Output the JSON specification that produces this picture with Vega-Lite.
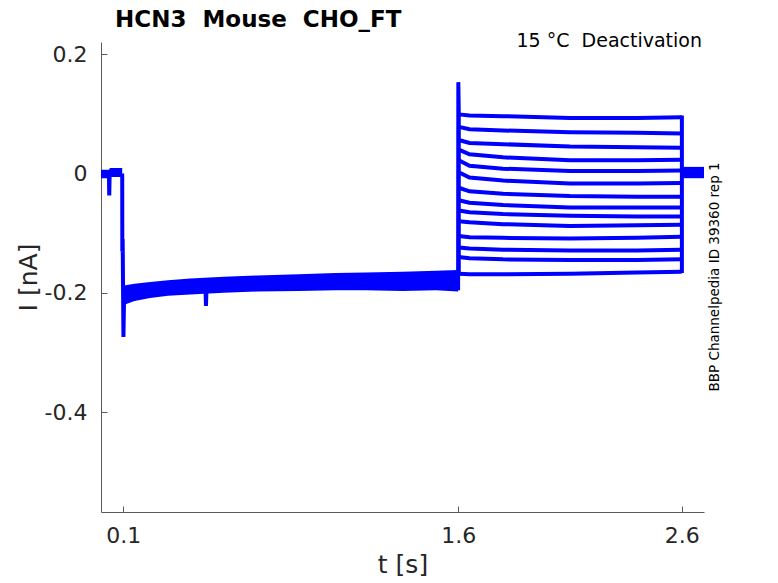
{
  "$schema": "https://vega.github.io/schema/vega-lite/v6.json",
  "width": 603,
  "height": 470,
  "autosize": {"type": "none"},
  "padding": {"left": 101, "top": 42, "right": 74, "bottom": 71},
  "background": "white",
  "config": {"font": "DejaVu Sans", "view": {"stroke": null}},
  "encoding": {
    "x": {
      "field": "t",
      "type": "quantitative",
      "scale": {"domain": [0, 2.7], "nice": false, "zero": false},
      "axis": {
        "title": "t [s]",
        "values": [0.1, 1.6, 2.6],
        "labelExpr": "'' + datum.value",
        "grid": false,
        "domainColor": "#5a5a5a",
        "tickColor": "#5a5a5a",
        "tickSize": -6,
        "labelPadding": 19,
        "labelFontSize": 22,
        "labelColor": "#262626",
        "labelFlush": false,
        "labelOverlap": false,
        "titleFontSize": 25,
        "titleFontWeight": "normal",
        "titleColor": "#262626",
        "titlePadding": 6
      }
    },
    "y": {
      "field": "v",
      "type": "quantitative",
      "scale": {"domain": [-0.5675, 0.2203], "nice": false, "zero": false},
      "axis": {
        "title": "I [nA]",
        "values": [-0.4, -0.2, 0, 0.2],
        "labelExpr": "'' + datum.value",
        "grid": false,
        "domainColor": "#5a5a5a",
        "tickColor": "#5a5a5a",
        "tickSize": -6,
        "labelPadding": 20,
        "labelFontSize": 22,
        "labelColor": "#262626",
        "labelFlush": false,
        "labelOverlap": false,
        "titleFontSize": 25,
        "titleFontWeight": "normal",
        "titleColor": "#262626",
        "titlePadding": 3
      }
    }
  },
  "layer": [
    {
      "data": {
        "values": [
          {"s": "a", "t": 0.0, "v": 0.006, "v2": -0.008},
          {"s": "a", "t": 0.036, "v": 0.006, "v2": -0.008},
          {"s": "a", "t": 0.04, "v": 0.009, "v2": -0.006},
          {"s": "a", "t": 0.095, "v": 0.009, "v2": -0.006},
          {"s": "b", "t": 0.101, "v": -0.2, "v2": -0.228},
          {"s": "b", "t": 0.104, "v": -0.188, "v2": -0.22},
          {"s": "b", "t": 0.15, "v": -0.185, "v2": -0.214},
          {"s": "b", "t": 0.22, "v": -0.182, "v2": -0.209},
          {"s": "b", "t": 0.3, "v": -0.179, "v2": -0.205},
          {"s": "b", "t": 0.4, "v": -0.176, "v2": -0.203},
          {"s": "b", "t": 0.55, "v": -0.173, "v2": -0.2},
          {"s": "b", "t": 0.7, "v": -0.171, "v2": -0.198},
          {"s": "b", "t": 0.885, "v": -0.169, "v2": -0.197},
          {"s": "b", "t": 1.05, "v": -0.167, "v2": -0.196},
          {"s": "b", "t": 1.184, "v": -0.166, "v2": -0.196},
          {"s": "b", "t": 1.35, "v": -0.165, "v2": -0.197},
          {"s": "b", "t": 1.5, "v": -0.163, "v2": -0.196},
          {"s": "b", "t": 1.599, "v": -0.162, "v2": -0.198},
          {"s": "c", "t": 2.601, "v": 0.011, "v2": -0.008},
          {"s": "c", "t": 2.7, "v": 0.011, "v2": -0.008}
        ]
      },
      "mark": {"type": "area", "color": "#0000ff", "opacity": 1},
      "encoding": {
        "y2": {"field": "v2"},
        "detail": {"field": "s", "type": "nominal"}
      }
    },
    {
      "data": {
        "values": [
          {"s": "dip1", "i": 0, "t": 0.0355, "v": 0.0},
          {"s": "dip1", "i": 1, "t": 0.037, "v": -0.037},
          {"s": "dip1", "i": 2, "t": 0.0385, "v": -0.005},
          {"s": "step", "i": 0, "t": 0.095, "v": 0.0},
          {"s": "step", "i": 1, "t": 0.0955, "v": -0.131},
          {"s": "step", "i": 2, "t": 0.097, "v": -0.11},
          {"s": "step", "i": 3, "t": 0.1005, "v": -0.274},
          {"s": "step", "i": 4, "t": 0.103, "v": -0.215},
          {"s": "dip2", "i": 0, "t": 0.468, "v": -0.195},
          {"s": "dip2", "i": 1, "t": 0.47, "v": -0.222},
          {"s": "dip2", "i": 2, "t": 0.472, "v": -0.198},
          {"s": "on", "i": 0, "t": 1.599, "v": -0.196},
          {"s": "on", "i": 1, "t": 1.6, "v": 0.153},
          {"s": "on", "i": 2, "t": 1.602, "v": 0.1},
          {"s": "on", "i": 3, "t": 1.602, "v": -0.168},
          {"s": "off", "i": 0, "t": 2.601, "v": 0.097},
          {"s": "off", "i": 1, "t": 2.601, "v": -0.167},
          {"s": "s01", "i": 0, "t": 1.602, "v": 0.099},
          {"s": "s01", "i": 1, "t": 1.65, "v": 0.097},
          {"s": "s01", "i": 2, "t": 1.8, "v": 0.096},
          {"s": "s01", "i": 3, "t": 2.1, "v": 0.093},
          {"s": "s01", "i": 4, "t": 2.4, "v": 0.093},
          {"s": "s01", "i": 5, "t": 2.6, "v": 0.094},
          {"s": "s02", "i": 0, "t": 1.602, "v": 0.078},
          {"s": "s02", "i": 1, "t": 1.65, "v": 0.074},
          {"s": "s02", "i": 2, "t": 1.8, "v": 0.072},
          {"s": "s02", "i": 3, "t": 2.1, "v": 0.069},
          {"s": "s02", "i": 4, "t": 2.4, "v": 0.068},
          {"s": "s02", "i": 5, "t": 2.6, "v": 0.067},
          {"s": "s03", "i": 0, "t": 1.602, "v": 0.056},
          {"s": "s03", "i": 1, "t": 1.65, "v": 0.051},
          {"s": "s03", "i": 2, "t": 1.8, "v": 0.049},
          {"s": "s03", "i": 3, "t": 2.1, "v": 0.045},
          {"s": "s03", "i": 4, "t": 2.4, "v": 0.044},
          {"s": "s03", "i": 5, "t": 2.6, "v": 0.043},
          {"s": "s04", "i": 0, "t": 1.602, "v": 0.04},
          {"s": "s04", "i": 1, "t": 1.65, "v": 0.032},
          {"s": "s04", "i": 2, "t": 1.8, "v": 0.027},
          {"s": "s04", "i": 3, "t": 2.1, "v": 0.022},
          {"s": "s04", "i": 4, "t": 2.4, "v": 0.022},
          {"s": "s04", "i": 5, "t": 2.6, "v": 0.023},
          {"s": "s05", "i": 0, "t": 1.602, "v": 0.022},
          {"s": "s05", "i": 1, "t": 1.65, "v": 0.013},
          {"s": "s05", "i": 2, "t": 1.8, "v": 0.008},
          {"s": "s05", "i": 3, "t": 2.1, "v": 0.004},
          {"s": "s05", "i": 4, "t": 2.4, "v": 0.004},
          {"s": "s05", "i": 5, "t": 2.6, "v": 0.005},
          {"s": "s06", "i": 0, "t": 1.602, "v": 0.002},
          {"s": "s06", "i": 1, "t": 1.65, "v": -0.007},
          {"s": "s06", "i": 2, "t": 1.8, "v": -0.012},
          {"s": "s06", "i": 3, "t": 2.1, "v": -0.017},
          {"s": "s06", "i": 4, "t": 2.4, "v": -0.017},
          {"s": "s06", "i": 5, "t": 2.6, "v": -0.016},
          {"s": "s07", "i": 0, "t": 1.602, "v": -0.024},
          {"s": "s07", "i": 1, "t": 1.65, "v": -0.03},
          {"s": "s07", "i": 2, "t": 1.8, "v": -0.034},
          {"s": "s07", "i": 3, "t": 2.1, "v": -0.038},
          {"s": "s07", "i": 4, "t": 2.4, "v": -0.039},
          {"s": "s07", "i": 5, "t": 2.6, "v": -0.039},
          {"s": "s08", "i": 0, "t": 1.602, "v": -0.045},
          {"s": "s08", "i": 1, "t": 1.65, "v": -0.049},
          {"s": "s08", "i": 2, "t": 1.8, "v": -0.053},
          {"s": "s08", "i": 3, "t": 2.1, "v": -0.057},
          {"s": "s08", "i": 4, "t": 2.4, "v": -0.057},
          {"s": "s08", "i": 5, "t": 2.6, "v": -0.057},
          {"s": "s09", "i": 0, "t": 1.602, "v": -0.062},
          {"s": "s09", "i": 1, "t": 1.65, "v": -0.065},
          {"s": "s09", "i": 2, "t": 1.8, "v": -0.068},
          {"s": "s09", "i": 3, "t": 2.1, "v": -0.071},
          {"s": "s09", "i": 4, "t": 2.4, "v": -0.072},
          {"s": "s09", "i": 5, "t": 2.6, "v": -0.072},
          {"s": "s10", "i": 0, "t": 1.602, "v": -0.08},
          {"s": "s10", "i": 1, "t": 1.65, "v": -0.082},
          {"s": "s10", "i": 2, "t": 1.8, "v": -0.085},
          {"s": "s10", "i": 3, "t": 2.1, "v": -0.088},
          {"s": "s10", "i": 4, "t": 2.4, "v": -0.087},
          {"s": "s10", "i": 5, "t": 2.6, "v": -0.086},
          {"s": "s11", "i": 0, "t": 1.602, "v": -0.105},
          {"s": "s11", "i": 1, "t": 1.65, "v": -0.107},
          {"s": "s11", "i": 2, "t": 1.8, "v": -0.108},
          {"s": "s11", "i": 3, "t": 2.1, "v": -0.109},
          {"s": "s11", "i": 4, "t": 2.4, "v": -0.108},
          {"s": "s11", "i": 5, "t": 2.6, "v": -0.106},
          {"s": "s12", "i": 0, "t": 1.602, "v": -0.124},
          {"s": "s12", "i": 1, "t": 1.65, "v": -0.126},
          {"s": "s12", "i": 2, "t": 1.8, "v": -0.128},
          {"s": "s12", "i": 3, "t": 2.1, "v": -0.129},
          {"s": "s12", "i": 4, "t": 2.4, "v": -0.129},
          {"s": "s12", "i": 5, "t": 2.6, "v": -0.128},
          {"s": "s13", "i": 0, "t": 1.602, "v": -0.14},
          {"s": "s13", "i": 1, "t": 1.65, "v": -0.142},
          {"s": "s13", "i": 2, "t": 1.8, "v": -0.144},
          {"s": "s13", "i": 3, "t": 2.1, "v": -0.145},
          {"s": "s13", "i": 4, "t": 2.4, "v": -0.145},
          {"s": "s13", "i": 5, "t": 2.6, "v": -0.144},
          {"s": "s14", "i": 0, "t": 1.602, "v": -0.168},
          {"s": "s14", "i": 1, "t": 1.65, "v": -0.169},
          {"s": "s14", "i": 2, "t": 1.8, "v": -0.169},
          {"s": "s14", "i": 3, "t": 2.1, "v": -0.168},
          {"s": "s14", "i": 4, "t": 2.4, "v": -0.166},
          {"s": "s14", "i": 5, "t": 2.6, "v": -0.165}
        ]
      },
      "mark": {"type": "line", "color": "#0000ff", "strokeWidth": 4},
      "encoding": {
        "detail": {"field": "s", "type": "nominal"},
        "order": {"field": "i", "type": "quantitative"}
      }
    },
    {
      "data": {"values": [{"t": 0.063, "v": 0.2456, "label": "HCN3\u00a0 Mouse\u00a0 CHO_FT"}]},
      "mark": {"type": "text", "align": "left", "baseline": "alphabetic", "fontSize": 23, "fontWeight": "bold", "color": "#000000"},
      "encoding": {"text": {"field": "label"}}
    },
    {
      "data": {"values": [{"t": 2.691, "v": 0.222, "label": "15 °C\u00a0 Deactivation"}]},
      "mark": {"type": "text", "align": "right", "baseline": "middle", "fontSize": 19, "color": "#000000"},
      "encoding": {"text": {"field": "label"}}
    },
    {
      "data": {"values": [{"t": 2.749, "v": -0.1735, "label": "BBP Channelpedia ID 39360 rep 1"}]},
      "mark": {"type": "text", "align": "center", "baseline": "middle", "angle": 270, "fontSize": 13.5, "color": "#000000"},
      "encoding": {"text": {"field": "label"}}
    }
  ]
}
